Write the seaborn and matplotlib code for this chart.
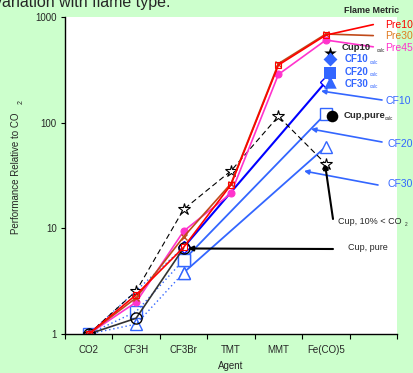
import numpy as np
import pandas as pd
import matplotlib
matplotlib.use("Agg")
import matplotlib.pyplot as plt
import seaborn as sns

# ---------------- data ----------------
categories = ["CO2", "CF3H", "CF3Br", "TMT", "MMT", "Fe(CO)5", ""]
pre10 = [1, 2.35, 6.6, 25.9, 351, 674, 848]
pre30 = [1, 2.2, 8.3, 26.5, 362, 690, 667]
pre45 = [1, 2.0, 9.4, 21.4, 286, 605, 522]
cup10 = [1, 2.55, 15.1, 35, 115, 40.6, np.nan]
cup_pure = [1, 1.41, 6.5, np.nan, np.nan, np.nan, np.nan]
cf10 = [1, np.nan, 6.6, np.nan, np.nan, 244, np.nan]
cf20 = [1, 1.63, 5.0, np.nan, np.nan, 122, np.nan]
cf30 = [1, 1.24, 3.8, np.nan, np.nan, 59.2, np.nan]
calc_names = ["Cup10", "CF10", "CF20", "CF30", "Cup,pure"]
calc_values = [459, 397, 297, 244, 115]

# ---------------- style ----------------
sns.set_style("white")
plt.rcParams["font.family"] = ["Liberation Sans", "DejaVu Sans"]
BG = "#CCFFCC"
RED = "#FF0000"
BROWN = "#C04A1A"
ORANGE = "#E07A20"
MAG = "#FF33CC"
BLUE = "#0000FF"
LBLUE = "#3366FF"

fig = plt.figure(figsize=(4.13, 3.73), dpi=100, facecolor=BG)
ax = fig.add_axes([65 / 413, 1 - 334 / 373, 332 / 413, 317 / 373])
ax.set_facecolor("white")
ax.set_yscale("log")


def frame(vals, idx=None):
    xs = list(range(len(categories)))
    df = pd.DataFrame({"x": xs, "y": vals})
    if idx is not None:
        df = df.iloc[idx]
    return df.dropna()


def line(vals, idx=None, **kw):
    d = frame(vals, idx)
    sns.lineplot(data=d, x="x", y="y", ax=ax, estimator=None, sort=False,
                 legend=False, **kw)


# dotted parts of CF series (CO2 -> CF3H -> CF3Br)
line(cf10, [0, 1, 2], color=LBLUE, lw=1.0, ls=(0, (1, 2)))
line(cf20, [0, 1, 2], color=LBLUE, lw=1.0, ls=(0, (1, 2)), marker="s",
     ms=8, mfc="none", mec=LBLUE, mew=1.0)
line(cf30, [0, 1, 2], color=LBLUE, lw=1.0, ls=(0, (1, 2)), marker="^",
     ms=8, mfc="none", mec=LBLUE, mew=1.0)
# solid parts of CF series (CF3Br -> Fe(CO)5)
line(cf20, [2, 5], color=LBLUE, lw=1.3, marker="s", ms=8, mfc="white",
     mec=LBLUE, mew=1.0)
line(cf30, [2, 5], color=LBLUE, lw=1.3, marker="^", ms=8, mfc="white",
     mec=LBLUE, mew=1.0)
line(cf10, [2, 5], color=BLUE, lw=1.5, marker="D", ms=6, mfc="white",
     mec=BLUE, mew=1.0)

# Cup series
line(cup_pure, color="#333333", lw=1.2, marker="o", ms=8, mfc="none",
     mec="black", mew=1.0)
line(cup10, color="black", lw=0.8, ls=(0, (5, 3)), marker="*", ms=9,
     mfc="white", mec="black", mew=0.8)

# Premixed flame series (no marker on the label end point)
marks = list(range(6))
line(pre45, color=MAG, lw=1.2, marker="o", ms=5, mfc=MAG, mec=MAG, mew=0.8,
     markevery=marks)
line(pre30, color=BROWN, lw=1.2, marker="x", ms=5, mec=BROWN, mew=1.0,
     markevery=marks)
line(pre10, color=RED, lw=1.2, marker="s", ms=5, mfc="none", mec=RED,
     mew=0.8, markevery=marks)

# calculated points
calc_x = [5.09, 5.09, 5.09, 5.09, 5.12]
calc_markers = ["*", "D", "s", "^", "o"]
calc_colors = ["black", LBLUE, LBLUE, LBLUE, "black"]
calc_sizes = [90, 50, 80, 80, 70]
for cx, cv, m, c, s in zip(calc_x, calc_values, calc_markers, calc_colors,
                           calc_sizes):
    sns.scatterplot(x=[cx], y=[cv], ax=ax, marker=m, color=c, s=s,
                    edgecolor=c, linewidth=0, legend=False, zorder=5)

# ---------------- axes ----------------
ax.set_xlim(-0.5, 6.5)
ax.set_ylim(1, 1000)
ax.set_xticks(np.arange(-0.5, 7.0, 1.0))
ax.set_xticklabels([])
ax.set_xticks(range(len(categories)), minor=True)
ax.set_xticklabels(categories, minor=True, fontsize=7)
ax.tick_params(axis="x", which="major", direction="out", length=3.5,
               width=0.8, color="black", bottom=True)
ax.tick_params(axis="x", which="minor", length=0, pad=8, bottom=True)
ax.set_yticks([1, 10, 100, 1000])
ax.set_yticklabels(["1", "10", "100", "1000"], fontsize=7)
ax.yaxis.set_minor_locator(matplotlib.ticker.NullLocator())
ax.tick_params(axis="y", which="major", direction="out", length=3,
               width=0.8, color="black", left=True, pad=3)
for s in ["top", "right"]:
    ax.spines[s].set_visible(False)
for s in ["left", "bottom"]:
    ax.spines[s].set_color("black")
    ax.spines[s].set_linewidth(1.0)
ax.set_xlabel("Agent", fontsize=7, labelpad=4)
ax.set_ylabel("")

# y label with detached subscript
fig.text(16 / 413, 1 - 173.5 / 373, "Performance Relative to CO", rotation=90,
         ha="center", va="center", fontsize=7)
fig.text(21 / 413, 1 - 102 / 373, "2", rotation=90, ha="center",
         va="center", fontsize=5)

# clipped heading
fig.text(-6 / 413, 1 - 7 / 373, "variation with flame type.", fontsize=11.5,
         ha="left", va="baseline")

# ---------------- labels & annotations ----------------
def axt(px, py, s, **kw):
    ax.text((px - 65) / 332, (334 - py) / 317, s, transform=ax.transAxes,
            clip_on=False, **kw)


axt(344, 11, "Flame Metric", fontsize=6.5, fontweight="bold", va="center")
axt(385.5, 25, "Pre10", color=RED, fontsize=7.5, va="center")
axt(385.5, 36, "Pre30", color=ORANGE, fontsize=7.5, va="center")
axt(385.5, 48, "Pre45", color=MAG, fontsize=7.5, va="center")

axt(341.5, 47.5, "Cup10", fontsize=6.8, fontweight="bold", va="center")
axt(377, 51, "calc", fontsize=3.3, va="center")
axt(345, 59.5, "CF10", fontsize=7, fontweight="bold", color=LBLUE,
    va="center")
axt(370, 62, "calc", fontsize=3.3, va="center", color=LBLUE)
axt(345, 72, "CF20", fontsize=7, fontweight="bold", color=LBLUE,
    va="center")
axt(370, 74.5, "calc", fontsize=3.3, va="center", color=LBLUE)
axt(345, 84, "CF30", fontsize=7, fontweight="bold", color=LBLUE,
    va="center")
axt(370, 86.5, "calc", fontsize=3.3, va="center", color=LBLUE)
axt(343.5, 116, "Cup,pure", fontsize=6.8, fontweight="bold", va="center")
axt(385, 119, "calc", fontsize=3.3, va="center")


def px2d(px, py):
    return ((px - 65) / (332 / 7) - 0.5, 10 ** ((334 - py) / (317 / 3)))


def arrow(p_from, p_to, color, lw):
    ax.annotate("", xy=px2d(*p_to), xytext=px2d(*p_from),
                arrowprops=dict(arrowstyle="-|>", color=color, lw=lw,
                                mutation_scale=7, shrinkA=0, shrinkB=0),
                annotation_clip=False)


arrow((382, 100), (321, 91), LBLUE, 1.2)
axt(386, 101, "CF10", color=LBLUE, fontsize=7.5, va="center")
arrow((382, 142), (311, 129), LBLUE, 1.2)
axt(388, 144, "CF20", color=LBLUE, fontsize=7.5, va="center")
arrow((378, 185), (304, 171), LBLUE, 1.2)
axt(388, 184, "CF30", color=LBLUE, fontsize=7.5, va="center")

arrow((333, 219), (325, 164), "black", 1.5)
axt(338, 221.5, "Cup, 10% < CO", fontsize=6.5, va="center")
axt(405, 224, "2", fontsize=3.5, va="center")
arrow((333, 249), (188, 248.5), "black", 1.5)
axt(348, 248, "Cup, pure", fontsize=6.5, va="center")

fig.savefig("out.png", dpi=100, facecolor=BG)
